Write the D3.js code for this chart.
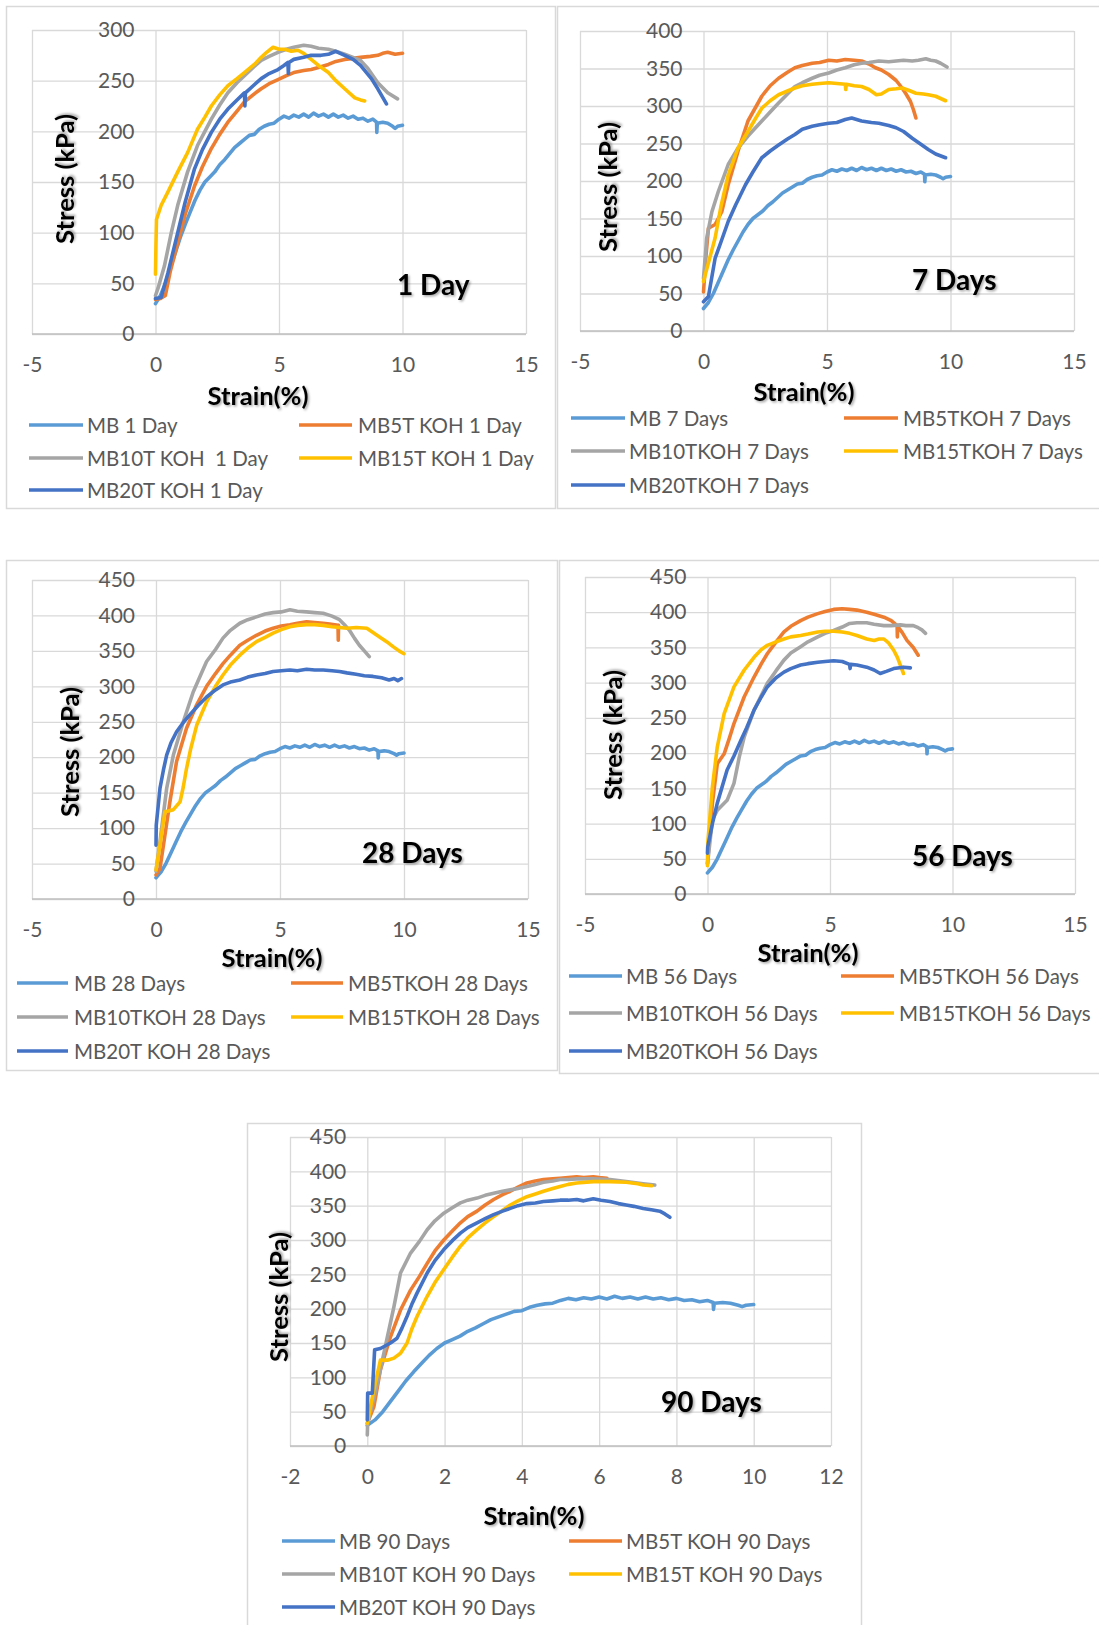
<!DOCTYPE html>
<html>
<head>
<meta charset="utf-8">
<script src="https://cdn.jsdelivr.net/npm/d3@7"></script>
<style>
  html, body { margin: 0; padding: 0; background: #fff; }
  svg { display: block; }
  text { font-family: Lato, "Open Sans", "Liberation Sans", sans-serif; }
</style>
</head>
<body>
<svg id="chart" width="1099" height="1625"></svg>
<script>
// ---- Data: strain (%) vs stress (kPa), read point by point ----

// Untreated control (identical curve in every panel)
const mbControl = [
  [0,30],[0.1,34],[0.2,38],[0.4,50],[0.6,65],[0.8,80],[1.0,95],[1.2,108],[1.4,120],[1.6,132],
  [1.8,142],[2.0,150],[2.2,155],[2.4,160],[2.6,167],[2.8,172],[3.0,178],[3.2,184],[3.4,188],
  [3.6,192],[3.8,196],[4.0,197],[4.2,202],[4.4,205],[4.6,207],[4.8,208],[5.0,212],[5.2,215],
  [5.4,213],[5.6,216],[5.8,214],[6.0,217],[6.2,214],[6.4,218],[6.6,215],[6.8,217],[7.0,214],
  [7.2,217],[7.4,214],[7.6,216],[7.8,213],[8.0,215],[8.2,212],[8.4,213],[8.6,210],[8.8,212],
  [8.95,209],[8.96,199],[8.98,208],[9.2,209],[9.4,208],[9.6,205],[9.7,203],[9.8,205],[10.0,206]
];

// 1 day
const mb5t1d = [
  [0,34],[0.2,35],[0.4,38],[0.6,62],[0.9,90],[1.2,118],[1.58,146],[1.9,165],[2.26,183],[2.6,197],
  [2.93,209],[3.3,220],[3.6,229],[4.0,237],[4.28,242],[4.6,247],[4.96,251],[5.3,255],[5.6,258],
  [6.0,260],[6.3,261],[6.6,263],[7.0,266],[7.3,269],[7.66,271],[8.0,272],[8.3,273],[8.7,274],
  [9.0,275],[9.2,277],[9.4,278],[9.7,276],[10.0,277]
];
const mb10t1d = [
  [0,38],[0.1,45],[0.36,67],[0.64,100],[0.9,127],[1.3,160],[1.7,186],[2.0,200],[2.26,212],
  [2.6,226],[2.93,238],[3.3,248],[3.6,255],[4.0,264],[4.28,270],[4.6,274],[4.96,278],[5.3,281],
  [5.6,283],[6.0,285],[6.3,284],[6.6,282],[7.0,281],[7.3,279],[7.66,276],[8.0,273],[8.3,270],
  [8.6,262],[9.0,248],[9.4,238],[9.8,232]
];
const mb15t1d = [
  [0,59],[0.02,90],[0.04,113],[0.23,127],[0.5,140],[0.9,160],[1.3,179],[1.7,202],[2.0,214],
  [2.26,225],[2.6,236],[2.93,245],[3.3,252],[3.6,258],[4.0,266],[4.28,273],[4.5,278],[4.76,283],
  [5.0,281],[5.23,281],[5.5,279],[5.77,280],[6.0,277],[6.3,271],[6.6,265],[7.0,258],[7.3,250],
  [7.66,242],[8.07,233],[8.3,231],[8.47,230]
];
const mb20t1d = [
  [0,35],[0.23,36],[0.5,60],[0.9,100],[1.2,130],[1.58,163],[1.9,182],[2.26,199],[2.6,212],
  [2.93,222],[3.3,231],[3.6,238],[3.62,225],[3.64,238],[4.0,246],[4.28,252],[4.6,257],
  [4.96,261],[5.2,265],[5.36,268],[5.38,257],[5.4,268],[5.6,271],[6.0,273],[6.3,275],[6.7,275],
  [7.0,276],[7.3,279],[7.66,275],[8.0,271],[8.3,265],[8.74,252],[9.0,242],[9.35,227]
];

// 7 days
const mb5t7d = [
  [0,52],[0.1,100],[0.2,137],[0.47,142],[0.74,159],[1.0,195],[1.4,240],[1.8,280],[2.36,313],
  [2.7,327],[3.04,337],[3.4,345],[3.7,351],[4.0,354],[4.4,357],[4.7,358],[5.07,361],[5.4,360],
  [5.74,362],[6.1,361],[6.4,360],[6.7,356],[6.96,351],[7.2,348],[7.5,342],[7.8,334],[8.04,324],
  [8.2,316],[8.38,306],[8.5,295],[8.6,284]
];
const mb10t7d = [
  [0,70],[0.13,124],[0.34,159],[0.6,186],[1.0,222],[1.4,244],[1.8,260],[2.36,280],[2.7,292],
  [3.04,304],[3.4,316],[3.7,326],[4.0,331],[4.4,337],[4.7,341],[5.07,344],[5.4,348],[5.74,351],
  [6.1,355],[6.4,357],[6.7,358],[7.1,360],[7.5,359],[7.8,360],[8.1,361],[8.45,360],[8.7,361],
  [9.0,363],[9.2,361],[9.4,360],[9.6,357],[9.86,352]
];
const mb15t7d = [
  [0,66],[0.07,75],[0.47,124],[0.7,165],[1.0,208],[1.4,244],[1.8,266],[2.1,283],[2.36,297],
  [2.7,307],[3.04,315],[3.4,320],[3.7,324],[4.0,327],[4.4,329],[4.7,330],[5.07,331],[5.4,330],
  [5.74,329],[5.76,322],[5.78,329],[6.1,327],[6.4,326],[6.7,322],[7.0,315],[7.2,316],[7.5,322],
  [7.8,323],[8.04,324],[8.3,321],[8.6,317],[8.9,316],[9.1,315],[9.4,313],[9.6,310],[9.8,307]
];
const mb20t7d = [
  [0,39],[0.2,46],[0.47,97],[0.7,118],[1.0,146],[1.3,168],[1.7,195],[2.0,212],[2.36,231],
  [2.7,240],[3.04,248],[3.4,256],[3.7,262],[4.0,269],[4.4,273],[4.7,275],[5.07,277],[5.4,278],
  [5.74,282],[6.0,284],[6.2,282],[6.4,280],[6.8,278],[7.1,277],[7.5,274],[7.8,271],[8.1,266],
  [8.45,257],[8.8,249],[9.1,242],[9.4,236],[9.8,231]
];

// 28 days
const mb5t28d = [
  [0,34],[0.16,43],[0.36,90],[0.56,137],[0.83,194],[1.23,241],[1.64,274],[2.04,300],[2.4,318],
  [2.7,332],[3.0,344],[3.38,358],[3.7,365],[4.05,372],[4.4,378],[4.72,382],[5.05,385],[5.4,387],
  [5.7,389],[6.07,391],[6.4,390],[6.74,389],[7.0,388],[7.34,386],[7.35,365],[7.36,386]
];
const mb10t28d = [
  [0,39],[0.16,81],[0.43,156],[0.7,203],[1.1,250],[1.5,292],[1.8,316],[2.04,335],[2.4,352],
  [2.7,368],[3.0,379],[3.38,389],[3.7,394],[4.05,398],[4.4,402],[4.72,404],[5.05,405],[5.4,408],
  [5.7,406],[6.07,405],[6.4,404],[6.74,403],[7.1,399],[7.4,394],[7.6,387],[7.8,379],[8.0,368],
  [8.2,358],[8.4,350],[8.6,342]
];
const mb15t28d = [
  [0,41],[0.16,76],[0.36,123],[0.5,124],[0.7,126],[0.97,137],[1.1,158],[1.23,184],[1.4,212],
  [1.64,245],[2.04,278],[2.4,300],[2.7,316],[3.0,330],[3.38,344],[3.7,354],[4.05,363],[4.4,369],
  [4.72,375],[5.05,380],[5.4,384],[5.7,386],[6.07,387],[6.4,387],[6.74,386],[7.1,384],[7.4,383],
  [7.7,382],[8.07,383],[8.5,382],[8.75,376],[9.0,370],[9.3,363],[9.56,356],[9.8,350],[10.0,346]
];
const mb20t28d = [
  [0,76],[0.01,104],[0.16,156],[0.3,182],[0.43,203],[0.6,220],[0.83,236],[1.1,249],[1.37,260],
  [1.7,273],[2.04,285],[2.4,295],[2.7,302],[3.0,306],[3.38,309],[3.7,313],[4.05,316],[4.4,318],
  [4.72,321],[5.05,322],[5.4,323],[5.7,322],[6.07,324],[6.4,323],[6.74,323],[7.1,322],[7.4,321],
  [7.7,319],[8.07,317],[8.4,315],[8.75,314],[9.1,312],[9.4,309],[9.6,311],[9.75,308],[9.9,311]
];

// 56 days
const mb5t56d = [
  [0,43],[0.2,129],[0.4,185],[0.68,199],[0.9,222],[1.08,242],[1.5,280],[1.9,308],[2.2,327],
  [2.44,341],[2.8,358],[3.12,372],[3.4,380],[3.8,388],[4.1,393],[4.5,398],[4.8,401],[5.15,404],
  [5.5,405],[5.8,404],[6.1,403],[6.5,400],[6.8,397],[7.2,393],[7.5,388],[7.74,381],[7.75,365],
  [7.76,380],[7.95,371],[8.14,360],[8.4,350],[8.6,339]
];
const mb10t56d = [
  [0,43],[0.2,105],[0.4,119],[0.8,133],[1.08,157],[1.3,195],[1.5,223],[1.9,261],[2.2,282],
  [2.44,299],[2.8,317],[3.12,332],[3.4,342],[3.8,351],[4.1,358],[4.5,365],[4.8,370],[5.15,374],
  [5.5,379],[5.8,384],[6.1,385],[6.5,385],[6.8,383],[7.2,381],[7.5,381],[7.87,382],[8.1,381],
  [8.4,381],[8.6,378],[8.75,375],[8.9,370]
];
const mb15t56d = [
  [0,40],[0.01,72],[0.2,152],[0.4,209],[0.68,256],[1.08,294],[1.5,318],[1.9,336],[2.2,347],
  [2.44,353],[2.8,358],[3.12,362],[3.4,365],[3.8,367],[4.1,369],[4.5,372],[4.8,373],[5.15,373],
  [5.5,372],[5.8,370],[6.1,367],[6.5,362],[6.8,360],[7.0,362],[7.2,362],[7.4,356],[7.6,346],
  [7.75,336],[7.87,325],[8.0,313]
];
const mb20t56d = [
  [0,58],[0.01,67],[0.2,100],[0.4,129],[0.8,176],[1.08,196],[1.36,218],[1.6,236],[1.9,261],
  [2.2,280],[2.44,294],[2.8,307],[3.12,315],[3.4,320],[3.8,325],[4.1,327],[4.5,329],[4.8,330],
  [5.15,331],[5.5,330],[5.8,326],[5.82,320],[5.84,326],[6.1,325],[6.5,322],[6.8,318],[7.05,313],
  [7.3,316],[7.6,320],[8.0,322],[8.28,321]
];

// 90 days
const mb5t90d = [
  [0,33],[0.17,57],[0.34,111],[0.6,159],[0.86,198],[1.12,227],[1.35,247],[1.55,266],[1.75,284],
  [1.98,300],[2.2,313],[2.41,325],[2.6,334],[2.84,342],[3.05,351],[3.27,359],[3.5,366],
  [3.7,371],[3.9,377],[4.13,383],[4.35,386],[4.56,388],[4.8,389],[4.99,390],[5.2,391],
  [5.42,392],[5.6,391],[5.85,392],[6.0,391],[6.2,390]
];
const mb10t90d = [
  [0,16],[0.01,33],[0.26,91],[0.52,159],[0.69,203],[0.86,252],[1.12,281],[1.35,298],[1.55,315],
  [1.75,328],[1.98,339],[2.2,347],[2.41,354],[2.6,358],[2.84,361],[3.05,365],[3.27,368],
  [3.5,371],[3.7,373],[3.9,375],[4.13,378],[4.35,381],[4.56,384],[4.8,386],[4.99,388],
  [5.2,388],[5.42,389],[5.85,389],[6.28,388],[6.7,385],[7.14,382],[7.44,380]
];
const mb15t90d = [
  [0,33],[0.17,82],[0.34,125],[0.52,125],[0.69,128],[0.86,135],[1.03,150],[1.15,170],[1.29,189],
  [1.55,218],[1.75,238],[1.98,257],[2.2,275],[2.41,291],[2.6,303],[2.84,315],[3.05,325],
  [3.27,334],[3.5,343],[3.7,351],[3.9,357],[4.13,363],[4.35,367],[4.56,371],[4.8,375],[4.99,378],
  [5.2,381],[5.42,383],[5.85,385],[6.28,385],[6.7,384],[7.0,382],[7.14,380],[7.36,379]
];
const mb20t90d = [
  [0,38],[0.01,77],[0.13,77],[0.19,140],[0.34,142],[0.6,150],[0.77,157],[0.9,172],[1.03,189],
  [1.15,206],[1.29,223],[1.55,252],[1.75,270],[1.98,286],[2.2,299],[2.41,310],[2.6,318],
  [2.84,325],[3.05,331],[3.27,337],[3.5,342],[3.7,346],[3.9,350],[4.13,353],[4.35,354],
  [4.56,356],[4.8,357],[4.99,358],[5.2,358],[5.42,359],[5.6,357],[5.85,360],[6.05,358],
  [6.28,356],[6.5,353],[6.7,351],[6.9,349],[7.14,346],[7.35,344],[7.57,342],[7.7,338],[7.83,333]
];

// Legend labels per curing age
const labels1d  = ["MB 1 Day", "MB5T KOH 1 Day", "MB10T KOH  1 Day", "MB15T KOH 1 Day", "MB20T KOH 1 Day"];
const labels7d  = ["MB 7 Days", "MB5TKOH 7 Days", "MB10TKOH 7 Days", "MB15TKOH 7 Days", "MB20TKOH 7 Days"];
const labels28d = ["MB 28 Days", "MB5TKOH 28 Days", "MB10TKOH 28 Days", "MB15TKOH 28 Days", "MB20T KOH 28 Days"];
const labels56d = ["MB 56 Days", "MB5TKOH 56 Days", "MB10TKOH 56 Days", "MB15TKOH 56 Days", "MB20TKOH 56 Days"];
const labels90d = ["MB 90 Days", "MB5T KOH 90 Days", "MB10T KOH 90 Days", "MB15T KOH 90 Days", "MB20T KOH 90 Days"];

const panelTitles = ["1 Day", "7 Days", "28 Days", "56 Days", "90 Days"];

// Axis tick values
const xTicksWide  = [-5, 0, 5, 10, 15];
const xTicksNarrow = [-2, 0, 2, 4, 6, 8, 10, 12];
const yTicks300 = [0, 50, 100, 150, 200, 250, 300];
const yTicks400 = [0, 50, 100, 150, 200, 250, 300, 350, 400];
const yTicks450 = [0, 50, 100, 150, 200, 250, 300, 350, 400, 450];

const seriesColors = ["#5B9BD5", "#ED7D31", "#A5A5A5", "#FFC000", "#4472C4"];

// ---- Layout of the five panels ----
const panels = [
  { series: [mbControl, mb5t1d, mb10t1d, mb15t1d, mb20t1d], labels: labels1d, title: panelTitles[0],
    xTicks: xTicksWide, yTicks: yTicks300,
    plot: { l: 32, r: 526, t: 30, b: 334 }, frame: { l: 6, t: 6, r: 555, b: 508 },
    yTitle: [64, 179], xTitle: [258, 395], note: [397, 284],
    rows: [425, 458, 490], col1: [29, 83, 87], col2: [299, 352, 358] },
  { series: [mbControl, mb5t7d, mb10t7d, mb15t7d, mb20t7d], labels: labels7d, title: panelTitles[1],
    xTicks: xTicksWide, yTicks: yTicks400,
    plot: { l: 580, r: 1074, t: 31, b: 331 }, frame: { l: 557, t: 6, r: 1110, b: 508 },
    yTitle: [607, 187], xTitle: [804, 391], note: [912, 279],
    rows: [418, 451, 485], col1: [571, 625, 629], col2: [844, 898, 903] },
  { series: [mbControl, mb5t28d, mb10t28d, mb15t28d, mb20t28d], labels: labels28d, title: panelTitles[2],
    xTicks: xTicksWide, yTicks: yTicks450,
    plot: { l: 32, r: 528, t: 580, b: 899 }, frame: { l: 6, t: 560, r: 557, b: 1070 },
    yTitle: [69, 752], xTitle: [272, 957], note: [362, 852],
    rows: [983, 1017, 1051], col1: [17, 68, 74], col2: [291, 343, 348] },
  { series: [mbControl, mb5t56d, mb10t56d, mb15t56d, mb20t56d], labels: labels56d, title: panelTitles[3],
    xTicks: xTicksWide, yTicks: yTicks450,
    plot: { l: 585, r: 1075, t: 577, b: 894 }, frame: { l: 559, t: 560, r: 1110, b: 1073 },
    yTitle: [612, 735], xTitle: [808, 952], note: [912, 855],
    rows: [976, 1013, 1051], col1: [569, 622, 626], col2: [841, 894, 899] },
  { series: [mbControl, mb5t90d, mb10t90d, mb15t90d, mb20t90d], labels: labels90d, title: panelTitles[4],
    xTicks: xTicksNarrow, yTicks: yTicks450,
    plot: { l: 290, r: 831, t: 1137, b: 1446 }, frame: { l: 247, t: 1123, r: 861, b: 1640 },
    yTitle: [278, 1297], xTitle: [534, 1515], note: [661, 1401],
    rows: [1541, 1574, 1607], col1: [282, 335, 339], col2: [569, 622, 626] }
];

const svg = d3.select("#chart");

// Soft drop shadow used by the axis titles and the age annotations
const defs = svg.append("defs");
const shadow = defs.append("filter").attr("id", "txtShadow")
  .attr("x", "-10%").attr("y", "-20%").attr("width", "130%").attr("height", "150%");
shadow.append("feDropShadow").attr("dx", 1.5).attr("dy", 1.5).attr("stdDeviation", 1.2)
  .attr("flood-color", "#000").attr("flood-opacity", 0.35);

const gridColor = "#d9d9d9";
const tickColor = "#595959";
const plainNumber = d => String(d);

panels.forEach(p => {
  const g = svg.append("g");
  const xs = p.xTicks, ys = p.yTicks;
  const x = d3.scaleLinear().domain([xs[0], xs[xs.length - 1]]).range([p.plot.l, p.plot.r]);
  const y = d3.scaleLinear().domain([0, ys[ys.length - 1]]).range([p.plot.b, p.plot.t]);

  // chart frame
  g.append("rect")
    .attr("x", p.frame.l + 0.5).attr("y", p.frame.t + 0.5)
    .attr("width", p.frame.r - p.frame.l).attr("height", p.frame.b - p.frame.t)
    .attr("fill", "#fff").attr("stroke", gridColor).attr("stroke-width", 1.5);

  // gridlines
  const yGrid = d3.axisLeft(y).tickValues(ys).tickSize(-(p.plot.r - p.plot.l)).tickFormat("");
  g.append("g").attr("transform", `translate(${p.plot.l},0)`).call(yGrid)
    .call(a => a.select(".domain").remove())
    .call(a => a.selectAll("line").attr("stroke", gridColor).attr("stroke-width", 1.3));
  const xGrid = d3.axisBottom(x).tickValues(xs).tickSize(-(p.plot.b - p.plot.t)).tickFormat("");
  g.append("g").attr("transform", `translate(0,${p.plot.b})`).call(xGrid)
    .call(a => a.select(".domain").remove())
    .call(a => a.selectAll("line").attr("stroke", gridColor).attr("stroke-width", 1.3));

  // horizontal axis line at stress = 0
  g.append("line").attr("x1", p.plot.l).attr("x2", p.plot.r)
    .attr("y1", y(0)).attr("y2", y(0)).attr("stroke", "#bfbfbf").attr("stroke-width", 1.5);

  // x tick labels below the plot
  const xAxis = d3.axisBottom(x).tickValues(xs).tickSize(0).tickPadding(0).tickFormat(plainNumber);
  g.append("g").attr("transform", `translate(0,${p.plot.b + 31})`).call(xAxis)
    .call(a => a.select(".domain").remove())
    .call(a => a.selectAll("text")
      .attr("dy", "0.35em").attr("y", 0)
      .attr("fill", tickColor).style("font-size", "21px")
      .style("font-family", "Lato, 'Open Sans', sans-serif"));

  // y tick labels sit beside the vertical axis, which crosses at strain = 0
  const yAxis = d3.axisLeft(y).tickValues(ys).tickSize(0).tickPadding(0).tickFormat(plainNumber);
  g.append("g").attr("transform", `translate(${x(0) - 21},0)`).call(yAxis)
    .call(a => a.select(".domain").remove())
    .call(a => a.selectAll("text")
      .attr("fill", tickColor).style("font-size", "21px")
      .style("font-family", "Lato, 'Open Sans', sans-serif"));

  // stress-strain curves
  const line = d3.line().x(d => x(d[0])).y(d => y(d[1]));
  p.series.forEach((s, i) => {
    g.append("path").datum(s)
      .attr("d", line)
      .attr("fill", "none")
      .attr("stroke", seriesColors[i])
      .attr("stroke-width", 3.6)
      .attr("stroke-linejoin", "round")
      .attr("stroke-linecap", "round");
  });

  // axis titles
  g.append("text")
    .attr("transform", `translate(${p.yTitle[0]},${p.yTitle[1]}) rotate(-90)`)
    .attr("text-anchor", "middle").attr("dominant-baseline", "central")
    .attr("font-weight", 700).attr("font-size", 25.5).attr("fill", "#000")
    .attr("filter", "url(#txtShadow)")
    .text("Stress (kPa)");
  g.append("text")
    .attr("x", p.xTitle[0]).attr("y", p.xTitle[1])
    .attr("text-anchor", "middle").attr("dominant-baseline", "central")
    .attr("font-weight", 700).attr("font-size", 25.5).attr("fill", "#000")
    .attr("filter", "url(#txtShadow)")
    .text("Strain(%)");

  // curing-age annotation
  g.append("text")
    .attr("x", p.note[0]).attr("y", p.note[1])
    .attr("dominant-baseline", "central")
    .attr("font-weight", 700).attr("font-size", 28).attr("fill", "#000")
    .attr("filter", "url(#txtShadow)")
    .text(p.title);

  // legend: two columns, last entry alone on the third row
  const slots = [[p.col1, p.rows[0]], [p.col2, p.rows[0]], [p.col1, p.rows[1]], [p.col2, p.rows[1]], [p.col1, p.rows[2]]];
  p.labels.forEach((lab, i) => {
    const [c, ry] = slots[i];
    g.append("line").attr("x1", c[0]).attr("x2", c[1]).attr("y1", ry).attr("y2", ry)
      .attr("stroke", seriesColors[i]).attr("stroke-width", 3.6);
    g.append("text").attr("x", c[2]).attr("y", ry)
      .attr("dominant-baseline", "central")
      .attr("font-size", 20.5).attr("fill", tickColor)
      .style("white-space", "pre")
      .text(lab);
  });
});
</script>
</body>
</html>
